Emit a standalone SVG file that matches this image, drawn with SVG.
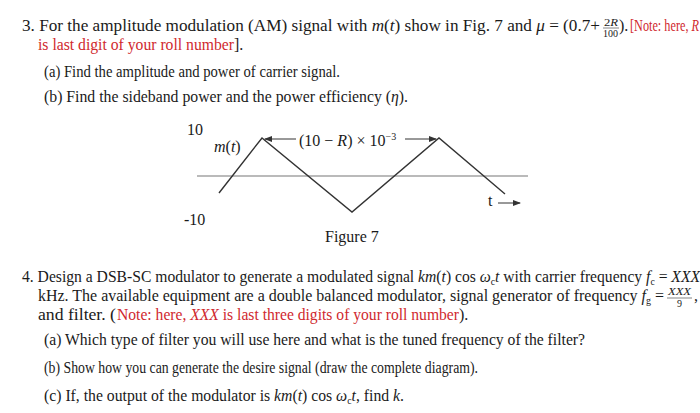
<svg xmlns="http://www.w3.org/2000/svg" width="700" height="413" viewBox="0 0 700 413">
<style>
text{font-family:"Liberation Serif","Times New Roman",serif;font-size:16px;fill:#1a1a1a}
.r{fill:#d0282e}
.i{font-style:italic}
.s{font-size:10px}
.w{fill:none;stroke:#333;stroke-width:1.4}
.ax{fill:none;stroke:#777;stroke-width:1.2}
</style>
<defs><marker id="ah" markerWidth="8" markerHeight="6" refX="7" refY="3" orient="auto"><path d="M0,0 L8,3 L0,6 Z" fill="#333"/></marker></defs>
<rect width="700" height="413" fill="#fff"/>
<g id="q3">
<text x="22" y="31" textLength="578" lengthAdjust="spacingAndGlyphs">3. For the amplitude modulation (AM) signal with <tspan class="i">m</tspan>(<tspan class="i">t</tspan>) show in Fig. 7 and <tspan class="i">μ</tspan> = (0.7+</text>
<text x="604" y="26" class="s" textLength="14" lengthAdjust="spacingAndGlyphs">2<tspan class="i">R</tspan></text>
<line x1="603" y1="28" x2="619" y2="28" stroke="#333" stroke-width="0.6"/>
<text x="603" y="37" class="s" textLength="15" lengthAdjust="spacingAndGlyphs">100</text>
<text x="619" y="31">).</text>
<text x="630" y="31" class="r" textLength="69" lengthAdjust="spacingAndGlyphs">[Note: here, <tspan class="i">R</tspan></text>
<text x="38" y="50" class="r" textLength="196" lengthAdjust="spacingAndGlyphs">is last digit of your roll number</text>
<text x="234" y="50">].</text>
<text x="44" y="77" textLength="296" lengthAdjust="spacingAndGlyphs">(a) Find the amplitude and power of carrier signal.</text>
<text x="44" y="102" textLength="364" lengthAdjust="spacingAndGlyphs">(b) Find the sideband power and the power efficiency (<tspan class="i">η</tspan>).</text>
</g>
<g id="figure7">
<line class="ax" x1="197" y1="176" x2="528" y2="176"/>
<polyline class="w" points="219,193 262,138 352,212 439,138 505,194"/>
<text x="187" y="135" font-size="14">10</text>
<text x="184" y="225" font-size="14">-10</text>
<text x="214" y="152" font-size="14"><tspan class="i">m</tspan>(<tspan class="i">t</tspan>)</text>
<text x="299" y="146" font-size="14">(10 − <tspan class="i">R</tspan>) × 10<tspan dy="-6" font-size="10">−3</tspan></text>
<line x1="296" y1="139" x2="265" y2="139" stroke="#333" stroke-width="1" marker-end="url(#ah)"/>
<line x1="405" y1="139" x2="436" y2="139" stroke="#333" stroke-width="1" marker-end="url(#ah)"/>
<text x="488" y="206" font-size="13">t</text>
<line x1="498" y1="203" x2="520" y2="203" stroke="#333" stroke-width="1" marker-end="url(#ah)"/>
<text x="325" y="242" font-size="14.5">Figure 7</text>
</g>
<g id="q4">
<text x="22" y="282" textLength="678" lengthAdjust="spacingAndGlyphs">4. Design a DSB-SC modulator to generate a modulated signal <tspan class="i">km</tspan>(<tspan class="i">t</tspan>) cos <tspan class="i">ω</tspan><tspan class="s" dy="3">c</tspan><tspan dy="-3" class="i">t</tspan> with carrier frequency <tspan class="i">f</tspan><tspan class="s" dy="3">c</tspan><tspan dy="-3"> = </tspan><tspan class="i">XXX</tspan></text>
<text x="38" y="301" textLength="626" lengthAdjust="spacingAndGlyphs">kHz. The available equipment are a double balanced modulator, signal generator of frequency <tspan class="i">f</tspan><tspan class="s" dy="3">g</tspan><tspan dy="-3"> =</tspan></text>
<text x="668" y="295" class="s i" textLength="23" lengthAdjust="spacingAndGlyphs">XXX</text>
<line x1="667" y1="298" x2="692" y2="298" stroke="#333" stroke-width="0.6"/>
<text x="677" y="307" class="s">9</text>
<text x="694" y="301">,</text>
<text x="38" y="320" textLength="78" lengthAdjust="spacingAndGlyphs">and filter. (</text>
<text x="117" y="320" class="r" textLength="342" lengthAdjust="spacingAndGlyphs">Note: here, <tspan class="i">XXX</tspan> is last three digits of your roll number</text>
<text x="459" y="320">).</text>
<text x="44" y="345" textLength="541" lengthAdjust="spacingAndGlyphs">(a) Which type of filter you will use here and what is the tuned frequency of the filter?</text>
<text x="44" y="373" textLength="434" lengthAdjust="spacingAndGlyphs">(b) Show how you can generate the desire signal (draw the complete diagram).</text>
<text x="44" y="401" textLength="360" lengthAdjust="spacingAndGlyphs">(c) If, the output of the modulator is <tspan class="i">km</tspan>(<tspan class="i">t</tspan>) cos <tspan class="i">ω</tspan><tspan class="s" dy="3">c</tspan><tspan dy="-3" class="i">t</tspan>, find <tspan class="i">k</tspan>.</text>
</g>
</svg>
